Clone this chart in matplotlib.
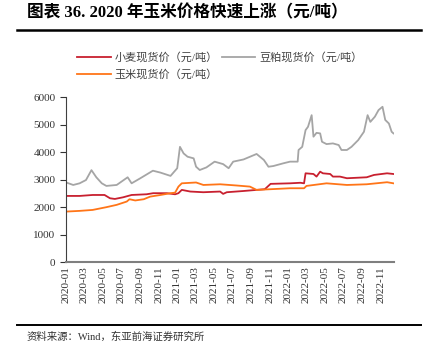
import matplotlib
matplotlib.use("Agg")
import matplotlib.pyplot as plt
import matplotlib.dates as mdates
import pandas as pd

# soybean meal spot price (yuan/ton)
soy_dates = ["2020-01-02", "2020-01-25", "2020-02-15", "2020-03-07", "2020-03-25", "2020-04-10",
             "2020-04-28", "2020-05-13", "2020-06-16", "2020-07-22", "2020-08-04", "2020-09-01",
             "2020-10-13", "2020-11-07", "2020-12-10", "2021-01-01", "2021-01-10", "2021-01-22",
             "2021-02-04", "2021-02-24", "2021-03-04", "2021-03-16", "2021-04-07", "2021-05-04",
             "2021-06-01", "2021-06-19", "2021-07-04", "2021-08-07", "2021-09-19", "2021-10-13",
             "2021-10-28", "2021-11-13", "2021-12-16", "2022-01-07", "2022-02-01", "2022-02-04",
             "2022-02-16", "2022-02-27", "2022-03-07", "2022-03-19", "2022-03-25", "2022-04-04",
             "2022-04-16", "2022-04-22", "2022-05-07", "2022-05-28", "2022-06-16", "2022-06-25",
             "2022-07-13", "2022-07-28", "2022-08-19", "2022-09-07", "2022-09-19", "2022-09-28",
             "2022-10-13", "2022-10-25", "2022-11-07", "2022-11-16", "2022-11-28", "2022-12-07",
             "2022-12-13"]
soy_vals = [2900, 2810, 2870, 2990, 3350, 3090, 2870, 2775, 2810, 3090, 2870, 3050,
            3330, 3260, 3140, 3420, 4200, 3960, 3840, 3780, 3475, 3355, 3450, 3660,
            3570, 3420, 3660, 3740, 3940, 3720, 3475, 3500, 3600, 3660, 3660, 4085,
            4200, 4810, 4930, 5355, 4570, 4710, 4690, 4385, 4300, 4325, 4265, 4085,
            4085, 4200, 4445, 4750, 5355, 5110, 5300, 5540, 5660, 5180, 5050, 4750,
            4690]

# wheat spot price
wheat_dates = ["2020-01-02", "2020-02-15", "2020-03-29", "2020-05-07", "2020-05-25", "2020-06-10",
               "2020-07-07", "2020-08-04", "2020-09-22", "2020-10-14", "2020-11-28", "2020-12-25",
               "2021-01-05", "2021-01-16", "2021-02-13", "2021-03-28", "2021-05-22", "2021-06-01",
               "2021-06-13", "2021-08-07", "2021-09-19", "2021-10-16", "2021-11-04", "2022-01-07",
               "2022-02-10", "2022-02-22", "2022-02-27", "2022-03-25", "2022-04-04", "2022-04-16",
               "2022-04-25", "2022-05-19", "2022-05-28", "2022-06-20", "2022-07-13", "2022-09-16",
               "2022-10-10", "2022-11-22", "2022-12-13"]
wheat_vals = [2410, 2410, 2445, 2445, 2325, 2300, 2360, 2445, 2470, 2510, 2510, 2470,
              2510, 2630, 2570, 2545, 2570, 2485, 2545, 2590, 2630, 2655, 2850, 2870,
              2890, 2870, 3235, 3210, 3115, 3295, 3235, 3210, 3115, 3115, 3055, 3090,
              3175, 3235, 3210]

# corn spot price
corn_dates = ["2020-01-02", "2020-02-15", "2020-03-29", "2020-05-13", "2020-06-16", "2020-07-19",
              "2020-07-28", "2020-08-16", "2020-09-13", "2020-10-04", "2020-11-07", "2020-12-10",
              "2020-12-25", "2021-01-05", "2021-01-16", "2021-03-04", "2021-03-28", "2021-05-22",
              "2021-07-16", "2021-08-28", "2021-09-19", "2021-11-04", "2022-01-07", "2022-02-22",
              "2022-03-02", "2022-05-07", "2022-07-13", "2022-09-16", "2022-11-22", "2022-12-13"]
corn_vals = [1840, 1865, 1900, 2000, 2085, 2205, 2290, 2245, 2290, 2385, 2445, 2510,
             2530, 2750, 2870, 2900, 2810, 2835, 2790, 2750, 2630, 2655, 2690, 2690,
             2775, 2870, 2810, 2835, 2910, 2870]

labels = ["小麦现货价（元/吨）", "玉米现货价（元/吨）", "豆粕现货价（元/吨）"]
title = "图表 36. 2020 年玉米价格快速上涨（元/吨）"
source = "资料来源：Wind，东亚前海证券研究所"

cjk = ["Liberation Serif", "Noto Sans CJK SC"]
plt.rcParams["font.family"] = cjk

fig = plt.figure(figsize=(4.28, 3.57), dpi=100)
ax = fig.add_axes([0.154, 0.266, 0.766, 0.461])

l1, = ax.plot(pd.to_datetime(wheat_dates), wheat_vals, color="#C8202F", lw=1.3)
l3, = ax.plot(pd.to_datetime(soy_dates), soy_vals, color="#A5A5A5", lw=1.3)
l2, = ax.plot(pd.to_datetime(corn_dates), corn_vals, color="#FF7518", lw=1.3)

ax.set_ylim(0, 6000)
ax.set_yticks(range(0, 6001, 1000))
ax.set_xlim(pd.Timestamp("2020-01-01"), pd.Timestamp("2022-12-14"))
ax.xaxis.set_major_locator(mdates.MonthLocator(bymonth=[1, 3, 5, 7, 9, 11]))
ax.xaxis.set_major_formatter(mdates.DateFormatter("%Y-%m"))
for lab in ax.get_xticklabels():
    lab.set_rotation(90)
ax.tick_params(axis="x", length=0, labelsize=8, pad=3, colors="#333333")
ax.tick_params(axis="y", length=4, labelsize=8, colors="#333333", direction="out")
ax.spines["top"].set_visible(False)
ax.spines["right"].set_visible(False)
ax.spines["left"].set_color("#404040")
ax.spines["bottom"].set_color("#7F7F7F")
ax.spines["bottom"].set_linewidth(1.5)

leg = fig.legend([l1, l2, l3], labels, ncol=2, loc="upper left",
                 bbox_to_anchor=(0.157, 0.883), frameon=False, fontsize=8,
                 handlelength=3.0, columnspacing=0.4, labelspacing=0.55,
                 handletextpad=0.35)
for t in leg.get_texts():
    t.set_color("#404040")

fig.text(0.063, 0.962, title, fontsize=12, fontweight="bold", va="center", ha="left")
fig.add_artist(plt.Line2D([0.04, 0.984], [0.916, 0.916], color="black", lw=1.8))
fig.add_artist(plt.Line2D([0.04, 0.984], [0.09, 0.09], color="black", lw=1.4))
fig.text(0.063, 0.058, source, fontsize=7.5, va="center", ha="left", color="#333333")

fig.savefig("out.png", dpi=100)
